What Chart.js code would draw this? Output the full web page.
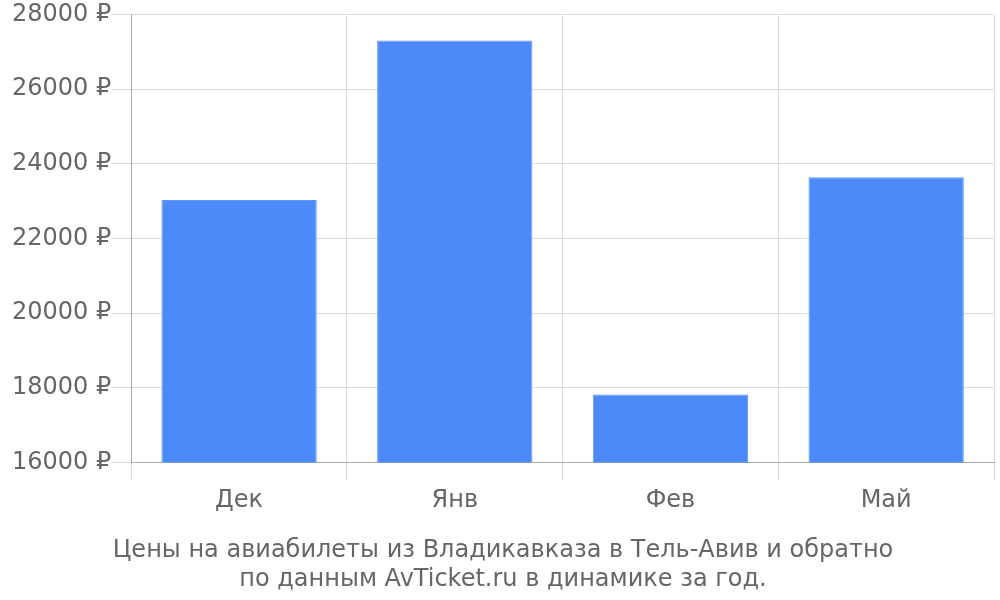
<!DOCTYPE html>
<html>
<head>
<meta charset="utf-8">
<script src="https://cdn.jsdelivr.net/npm/chart.js@4"></script>
<style>
  html, body { margin: 0; padding: 0; background: #fff; }
  #wrap { width: 1000px; height: 600px; }
</style>
</head>
<body>
<div id="wrap"><canvas id="priceChart"></canvas></div>
<script>
// Price data
const months = ["Дек", "Янв", "Фев", "Май"];
const prices = [23030, 27300, 17820, 23640];
const titleLines = [
	"Цены на авиабилеты из Владикавказа в Тель-Авив и обратно",
	"по данным AvTicket.ru в динамике за год.",
];

Chart.defaults.font.family = "'DejaVu Sans', sans-serif";
Chart.defaults.font.size = 24;
Chart.defaults.color = "#666";

const ctx = document.getElementById("priceChart").getContext("2d");
new Chart(ctx, {
	type: "bar",
	data: {
		labels: months,
		datasets: [
			{
				data: prices,
				backgroundColor: "#4d8af9",
				borderColor: "#5f96fa",
				borderWidth: 1,
			},
		],
	},
	options: {
		responsive: true,
		maintainAspectRatio: false,
		animation: false,
		layout: { padding: { top: 2, left: 12, right: 6, bottom: 6 } },
		plugins: {
			legend: { display: false },
			tooltip: { enabled: false },
			title: {
				display: true,
				position: "bottom",
				text: titleLines,
				font: { size: 24, weight: "normal", lineHeight: 1.2 },
				padding: { top: 15, bottom: 0 },
			},
		},
		scales: {
			x: {
				grid: { color: "#dedede", tickLength: 18 },
				border: { color: "#aaa" },
				ticks: { padding: 6 },
			},
			y: {
				min: 16000,
				max: 28000,
				grid: { color: "#dedede", tickLength: 20 },
				border: { color: "#aaa" },
				ticks: {
					stepSize: 2000,
					padding: 0,
					callback: (v) => v + " ₽",
				},
			},
		},
	},
});
</script>
</body>
</html>
